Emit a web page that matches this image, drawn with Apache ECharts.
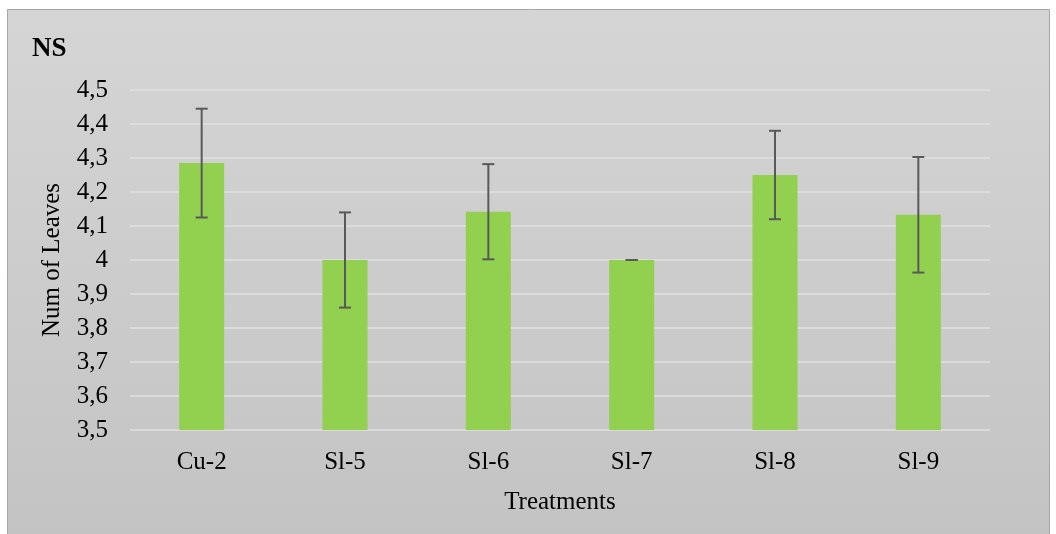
<!DOCTYPE html>
<html>
<head>
<meta charset="utf-8">
<script src="https://cdn.jsdelivr.net/npm/echarts@6/dist/echarts.min.js"></script>
<style>
html,body{margin:0;padding:0;background:#fff;}
#chart{width:1056px;height:534px;}
</style>
</head>
<body>
<div id="chart"></div>
<script>
const categories = ['Cu-2', 'Sl-5', 'Sl-6', 'Sl-7', 'Sl-8', 'Sl-9'];
const values = [4.285, 4.0, 4.142, 4.0, 4.25, 4.133];
const errors = [0.16, 0.14, 0.14, 0.0, 0.13, 0.17];
const yTicks = { min: 3.5, max: 4.5, interval: 0.1 };

const chart = echarts.init(document.getElementById('chart'));
const font = '"Liberation Serif", "Times New Roman", serif';
const errData = categories.map((c, i) => [i, values[i] - errors[i], values[i] + errors[i]]);

chart.setOption({
  animation: false,
  backgroundColor: '#fff',
  graphic: [{
    type: 'rect',
    z: -10,
    silent: true,
    shape: { x: 7.5, y: 9.5, width: 1042, height: 530 },
    style: {
      fill: new echarts.graphic.LinearGradient(0, 0, 0, 1, [
        { offset: 0, color: '#d5d5d5' },
        { offset: 1, color: '#c3c3c3' }
      ]),
      stroke: '#a6a6a6',
      lineWidth: 1
    }
  }],
  title: {
    text: 'NS',
    left: 27,
    top: 31,
    textStyle: { fontFamily: font, fontWeight: 'bold', fontSize: 27, color: '#000' }
  },
  grid: { left: 130, right: 66, top: 90, bottom: 104 },
  xAxis: {
    type: 'category',
    data: categories,
    name: 'Treatments',
    nameLocation: 'middle',
    nameGap: 60,
    nameTextStyle: { fontFamily: font, fontSize: 25, color: '#000' },
    axisLine: { show: false },
    axisTick: { show: false },
    axisLabel: { fontFamily: font, fontSize: 25, color: '#000', margin: 20 }
  },
  yAxis: {
    type: 'value',
    min: yTicks.min,
    max: yTicks.max,
    interval: yTicks.interval,
    name: 'Num of Leaves',
    nameLocation: 'middle',
    nameGap: 65,
    nameTextStyle: { fontFamily: font, fontSize: 25, color: '#000' },
    axisLine: { show: false },
    axisTick: { show: false },
    axisLabel: {
      fontFamily: font, fontSize: 25, color: '#000', margin: 22,
      formatter: v => String(Math.round(v * 10) / 10).replace('.', ',')
    },
    splitLine: { lineStyle: { color: '#e0e0e0', width: 1.5 } }
  },
  series: [{
    type: 'bar',
    data: values,
    barWidth: 45,
    itemStyle: { color: '#92d050' }
  }, {
    type: 'custom',
    data: errData,
    z: 5,
    renderItem: function (params, api) {
      const x = api.value(0);
      const lo = api.coord([x, api.value(1)]);
      const hi = api.coord([x, api.value(2)]);
      const cap = 6;
      const style = { stroke: '#595959', lineWidth: 2 };
      return {
        type: 'group',
        children: [
          { type: 'line', shape: { x1: hi[0], y1: hi[1], x2: lo[0], y2: lo[1] }, style },
          { type: 'line', shape: { x1: hi[0] - cap, y1: hi[1], x2: hi[0] + cap, y2: hi[1] }, style },
          { type: 'line', shape: { x1: lo[0] - cap, y1: lo[1], x2: lo[0] + cap, y2: lo[1] }, style }
        ]
      };
    }
  }]
});
</script>
</body>
</html>
